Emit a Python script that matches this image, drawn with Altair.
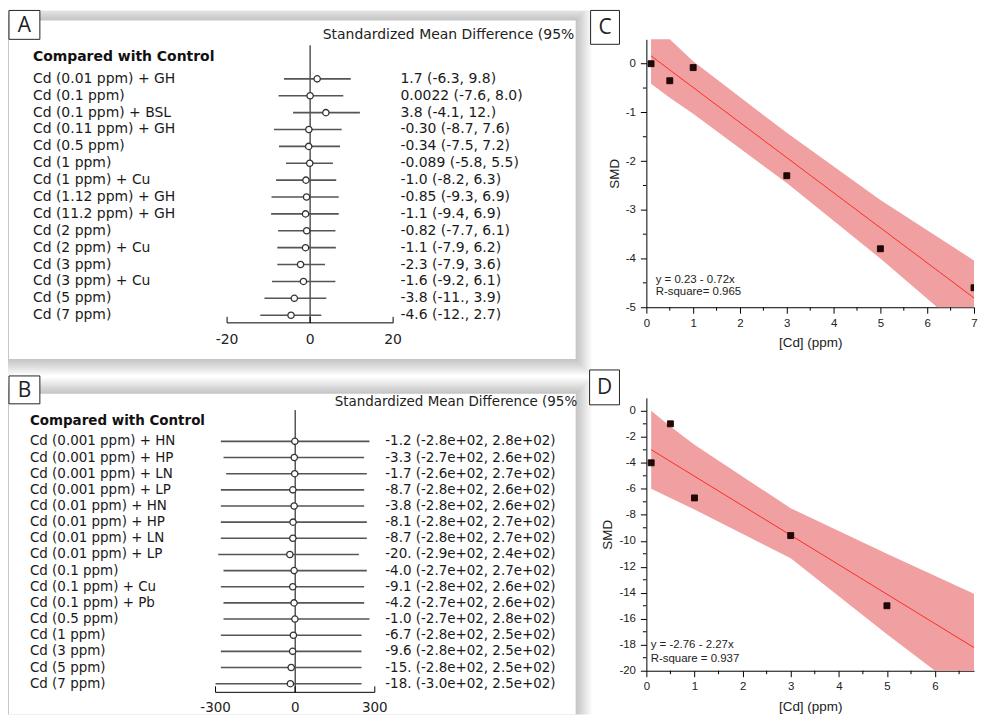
import altair as alt
import pandas as pd

# ---------------- Panel A data ----------------
a_labels = ["Cd (0.01 ppm) + GH", "Cd (0.1 ppm)", "Cd (0.1 ppm) + BSL", "Cd (0.11 ppm) + GH",
            "Cd (0.5 ppm)", "Cd (1 ppm)", "Cd (1 ppm) + Cu", "Cd (1.12 ppm) + GH",
            "Cd (11.2 ppm) + GH", "Cd (2 ppm)", "Cd (2 ppm) + Cu", "Cd (3 ppm)",
            "Cd (3 ppm) + Cu", "Cd (5 ppm)", "Cd (7 ppm)"]
a_est = [1.7, 0.0022, 3.8, -0.30, -0.34, -0.089, -1.0, -0.85, -1.1, -0.82, -1.1, -2.3, -1.6, -3.8, -4.6]
a_lo = [-6.3, -7.6, -4.1, -8.7, -7.5, -5.8, -8.2, -9.3, -9.4, -7.7, -7.9, -7.9, -9.2, -11.0, -12.0]
a_hi = [9.8, 8.0, 12.0, 7.6, 7.2, 5.5, 6.3, 6.9, 6.9, 6.1, 6.2, 3.6, 6.1, 3.9, 2.7]
a_text = ["1.7 (-6.3, 9.8)", "0.0022 (-7.6, 8.0)", "3.8 (-4.1, 12.)", "-0.30 (-8.7, 7.6)",
          "-0.34 (-7.5, 7.2)", "-0.089 (-5.8, 5.5)", "-1.0 (-8.2, 6.3)", "-0.85 (-9.3, 6.9)",
          "-1.1 (-9.4, 6.9)", "-0.82 (-7.7, 6.1)", "-1.1 (-7.9, 6.2)", "-2.3 (-7.9, 3.6)",
          "-1.6 (-9.2, 6.1)", "-3.8 (-11., 3.9)", "-4.6 (-12., 2.7)"]
a_ticks = [-20, 0, 20]
a_tick_labels = ["-20", "0", "20"]

# ---------------- Panel B data ----------------
b_labels = ["Cd (0.001 ppm) + HN", "Cd (0.001 ppm) + HP", "Cd (0.001 ppm) + LN", "Cd (0.001 ppm) + LP",
            "Cd (0.01 ppm) + HN", "Cd (0.01 ppm) + HP", "Cd (0.01 ppm) + LN", "Cd (0.01 ppm) + LP",
            "Cd (0.1 ppm)", "Cd (0.1 ppm) + Cu", "Cd (0.1 ppm) + Pb", "Cd (0.5 ppm)",
            "Cd (1 ppm)", "Cd (3 ppm)", "Cd (5 ppm)", "Cd (7 ppm)"]
b_est = [-1.2, -3.3, -1.7, -8.7, -3.8, -8.1, -8.7, -20.0, -4.0, -9.1, -4.2, -1.0, -6.7, -9.6, -15.0, -18.0]
b_lo = [-280, -270, -260, -280, -280, -280, -280, -290, -270, -280, -270, -270, -280, -280, -280, -300]
b_hi = [280, 260, 270, 260, 260, 270, 270, 240, 270, 260, 260, 280, 250, 250, 250, 250]
b_text = ["-1.2 (-2.8e+02, 2.8e+02)", "-3.3 (-2.7e+02, 2.6e+02)", "-1.7 (-2.6e+02, 2.7e+02)",
          "-8.7 (-2.8e+02, 2.6e+02)", "-3.8 (-2.8e+02, 2.6e+02)", "-8.1 (-2.8e+02, 2.7e+02)",
          "-8.7 (-2.8e+02, 2.7e+02)", "-20. (-2.9e+02, 2.4e+02)", "-4.0 (-2.7e+02, 2.7e+02)",
          "-9.1 (-2.8e+02, 2.6e+02)", "-4.2 (-2.7e+02, 2.6e+02)", "-1.0 (-2.7e+02, 2.8e+02)",
          "-6.7 (-2.8e+02, 2.5e+02)", "-9.6 (-2.8e+02, 2.5e+02)", "-15. (-2.8e+02, 2.5e+02)",
          "-18. (-3.0e+02, 2.5e+02)"]
b_ticks = [-300, 0, 300]
b_tick_labels = ["-300", "0", "300"]

header_text = "Standardized Mean Difference (95%"
group_text = "Compared with Control"

# ---------------- Panel C data ----------------
c_x = [0.1, 0.5, 1, 3, 5, 7]
c_y = [0.0, -0.35, -0.08, -2.3, -3.8, -4.6]
c_fit_x = [0.1, 7]
c_fit_y = [0.16, -4.81]
c_band_x = [0.1, 0.5, 1, 3, 5, 7]
c_band_lo = [-0.41, -0.70, -1.03, -2.45, -4.0, -5.65]
c_band_hi = [0.5, 0.5, 0.05, -1.42, -2.80, -4.04]
c_eq = ["y = 0.23 - 0.72x", "R-square= 0.965"]

# ---------------- Panel D data ----------------
d_x = [0.1, 0.5, 1, 3, 5, 7]
d_y = [-4.0, -1.0, -6.7, -9.6, -15.0, -18.0]
d_fit_x = [0.1, 7]
d_fit_y = [-2.99, -18.65]
d_band_x = [0.1, 0.5, 1, 3, 5, 7]
d_band_lo = [-6.0, -6.7, -7.6, -11.35, -17.2, -22.8]
d_band_hi = [0.0, -1.2, -2.6, -7.5, -11.0, -14.4]
d_eq = ["y = -2.76 - 2.27x", "R-square = 0.937"]

FF = "DejaVu Sans"
AF = "Liberation Sans"
ONE = pd.DataFrame({"v": [0]})


def deco_rect(x1, x2, y1, y2, **kw):
    return alt.Chart(ONE).mark_rect(**kw).encode(
        x=alt.value(x1), x2=alt.value(x2), y=alt.value(y1), y2=alt.value(y2))


def deco_text(x, y, text, **kw):
    return alt.Chart(pd.DataFrame({"t": [text]})).mark_text(**kw).encode(
        x=alt.value(x), y=alt.value(y), text="t:N")


def forest(labels, est, lo, hi, texts, ticks, tick_labels, letter, g):
    n = len(labels)
    df = pd.DataFrame({"row": list(range(n)), "label": labels, "est": est,
                       "lo": lo, "hi": hi, "txt": texts})
    xs = alt.Scale(domain=[ticks[0], ticks[-1]], range=g["xr"], nice=False, zero=False)
    ys = alt.Scale(domain=[0, n - 1], range=g["yr"], nice=False, zero=False)
    fs = g["fs"]
    L = []
    px1, px2, py1, py2 = g["panel"]
    for k in range(1, 11):
        s = k * 1.6
        L.append(deco_rect(max(px1 - s, 0), px2 + s, max(py1 - s, 0),
                           py2 + (s if g["sb"] else 0), color="black", opacity=0.025))
    L.append(deco_rect(px1, px2, py1, py2, color="white"))
    L.append(deco_text(g["hx"], g["hy"], header_text, align="left", baseline="middle",
                       font=FF, fontSize=fs, color="#222"))
    L.append(deco_text(g["lx"], g["cy"], group_text, align="left", baseline="middle",
                       font=FF, fontSize=fs, fontWeight="bold", color="#111"))
    zdf = pd.DataFrame({"z": [0]})
    L.append(alt.Chart(zdf).mark_rule(color="black", strokeWidth=1).encode(
        x=alt.X("z:Q", scale=xs, axis=None), y=alt.value(g["zt"]), y2=alt.value(g["ay"])))
    adf = pd.DataFrame({"a": [ticks[0]], "b": [ticks[-1]]})
    L.append(alt.Chart(adf).mark_rule(color="black", strokeWidth=1).encode(
        x=alt.X("a:Q", scale=xs, axis=None), x2="b:Q", y=alt.value(g["ay"])))
    tdf = pd.DataFrame({"t": ticks, "lab": tick_labels})
    L.append(alt.Chart(tdf).mark_rule(color="black", strokeWidth=1).encode(
        x=alt.X("t:Q", scale=xs, axis=None), y=alt.value(g["ay"] - 6), y2=alt.value(g["ay"])))
    L.append(alt.Chart(tdf).mark_text(font=FF, fontSize=fs, baseline="middle", color="#222").encode(
        x=alt.X("t:Q", scale=xs, axis=None), y=alt.value(g["ly"]), text="lab:N"))
    L.append(alt.Chart(df).mark_rule(color="#555", strokeWidth=1.6).encode(
        x=alt.X("lo:Q", scale=xs, axis=None), x2="hi:Q", y=alt.Y("row:Q", scale=ys, axis=None)))
    L.append(alt.Chart(df).mark_circle(size=40, fill="white", stroke="#333", strokeWidth=1.3,
                                       opacity=1, fillOpacity=1).encode(
        x=alt.X("est:Q", scale=xs, axis=None), y=alt.Y("row:Q", scale=ys, axis=None)))
    L.append(alt.Chart(df).mark_text(align="left", baseline="middle", font=FF, fontSize=fs,
                                     color="#1a1a1a").encode(
        x=alt.value(g["lx"]), y=alt.Y("row:Q", scale=ys, axis=None), text="label:N"))
    L.append(alt.Chart(df).mark_text(align="left", baseline="middle", font=FF, fontSize=fs,
                                     color="#1a1a1a").encode(
        x=alt.value(g["vx"]), y=alt.Y("row:Q", scale=ys, axis=None), text="txt:N"))
    bx1, bx2, by1, by2 = g["box"]
    L.append(deco_rect(bx1, bx2, by1, by2, fill="white", stroke="#222", strokeWidth=1))
    L.append(deco_text((bx1 + bx2) / 2, (by1 + by2) / 2 + 1, letter, align="center",
                       baseline="middle", font="Open Sans", fontSize=21, color="#222"))
    return alt.layer(*L).properties(width=g["W"], height=g["H"])


def scatter(px, py, fx, fy, bx, blo, bhi, eq, letter, g):
    pts = pd.DataFrame({"x": px, "y": py})
    fit = pd.DataFrame({"x": fx, "y": fy})
    band = pd.DataFrame({"x": bx, "lo": blo, "hi": bhi})
    xs = alt.Scale(domain=g["xdom"], nice=False, zero=False)
    ys = alt.Scale(domain=g["ydom"], range=g["yr"], nice=False, zero=False)
    common = dict(grid=False, tickSize=6, tickColor="black", domainColor="black",
                  labelFont=AF, labelFontSize=11.5, labelColor="#222", titleFont=AF,
                  titleFontSize=13.5, titleFontWeight="normal", titleColor="#222",
                  labelFlush=False, labelExpr="toString(datum.value)")
    xax = alt.Axis(values=g["xvals"], title="[Cd] (ppm)", labelPadding=4, titlePadding=7, **common)
    yax = alt.Axis(values=g["yvals"], title="SMD", labelPadding=5, titlePadding=4, **common)

    def X(f):
        return alt.X(f, type="quantitative", scale=xs, axis=xax)

    def Y(f):
        return alt.Y(f, type="quantitative", scale=ys, axis=yax)

    H = g["H"]
    L = []
    L.append(alt.Chart(band).mark_area(color="#f0a0a0", opacity=1, clip=True).encode(
        x=X("x"), y=Y("lo"), y2="hi"))
    L.append(alt.Chart(fit).mark_line(color="#ff2a2a", strokeWidth=1, clip=True).encode(
        x=X("x"), y=Y("y")))
    L.append(alt.Chart(pts).mark_square(size=36, fill="#2a0505", stroke="black", strokeWidth=0.8,
                                        opacity=1, clip=True).encode(x=X("x"), y=Y("y")))
    mx = pd.DataFrame({"m": g["xminor"]})
    my = pd.DataFrame({"m": g["yminor"]})
    L.append(alt.Chart(mx).mark_rule(color="black", strokeWidth=1).encode(
        x=X("m"), y=alt.value(H), y2=alt.value(H + 3.5)))
    L.append(alt.Chart(my).mark_rule(color="black", strokeWidth=1).encode(
        y=Y("m"), x=alt.value(-3.5), x2=alt.value(0)))
    ex, ey1, ey2 = g["eq"]
    L.append(deco_text(ex, ey1, eq[0], align="left", baseline="middle", font=AF,
                       fontSize=11.5, color="#222"))
    L.append(deco_text(ex, ey2, eq[1], align="left", baseline="middle", font=AF,
                       fontSize=11.5, color="#222"))
    bx1, bx2, by1, by2 = g["box"]
    L.append(deco_rect(bx1, bx2, by1, by2, fill="white", stroke="#222", strokeWidth=1))
    L.append(deco_text((bx1 + bx2) / 2, (by1 + by2) / 2 + 1, letter, align="center",
                       baseline="middle", font="Open Sans", fontSize=21, color="#222"))
    return alt.layer(*L).properties(width=g["W"], height=H)


gA = dict(W=572, H=352, panel=(1, 570, 10, 350), sb=True, box=(1, 32, 0, 29),
          hx=316, hy=25, lx=25, cy=47, yr=[68.7, 306], xr=[220, 386.7],
          zt=35, ay=313.7, ly=331, vx=394, fs=14)
gB = dict(W=572, H=343, panel=(1, 570, 21, 343), sb=False, box=(1, 32, 3, 31),
          hx=328, hy=28.7, lx=22, cy=48.7, yr=[68.7, 312], xr=[208.4, 368.3],
          zt=37.3, ay=320.7, ly=336, vx=378.8, fs=13.5)
gC = dict(W=329, H=298, xdom=[0, 7], ydom=[-5, 0.5], yr=[298, 29],
          xvals=[0, 1, 2, 3, 4, 5, 6, 7], xminor=[0.5, 1.5, 2.5, 3.5, 4.5, 5.5, 6.5],
          yvals=[-5, -4, -3, -2, -1, 0], yminor=[-4.5, -3.5, -2.5, -1.5, -0.5],
          eq=(9.3, 270.3, 282.7), box=(-56, -27, 0, 34))
gD = dict(W=329, H=299, xdom=[0, 6.81], ydom=[-20, 1], yr=[299, 25],
          xvals=[0, 1, 2, 3, 4, 5, 6], xminor=[0.5, 1.5, 2.5, 3.5, 4.5, 5.5, 6.5],
          yvals=[-20, -18, -16, -14, -12, -10, -8, -6, -4, -2, 0],
          yminor=[-19, -17, -15, -13, -11, -9, -7, -5, -3, -1],
          eq=(4.3, 273, 287), box=(-57, -27, -3, 32))

A = forest(a_labels, a_est, a_lo, a_hi, a_text, a_ticks, a_tick_labels, "A", gA)
B = forest(b_labels, b_est, b_lo, b_hi, b_text, b_ticks, b_tick_labels, "B", gB)
C = scatter(c_x, c_y, c_fit_x, c_fit_y, c_band_x, c_band_lo, c_band_hi, c_eq, "C", gC)
D = scatter(d_x, d_y, d_fit_x, d_fit_y, d_band_x, d_band_lo, d_band_hi, d_eq, "D", gD)

chart = alt.concat(A, C, B, D, columns=2, spacing={"row": 12, "column": 69},
                   bounds="flush", align="each").properties(
    padding=0, background="white").configure_view(stroke=None)

chart.save("out.html", embed_options={"renderer": "svg", "actions": False})
